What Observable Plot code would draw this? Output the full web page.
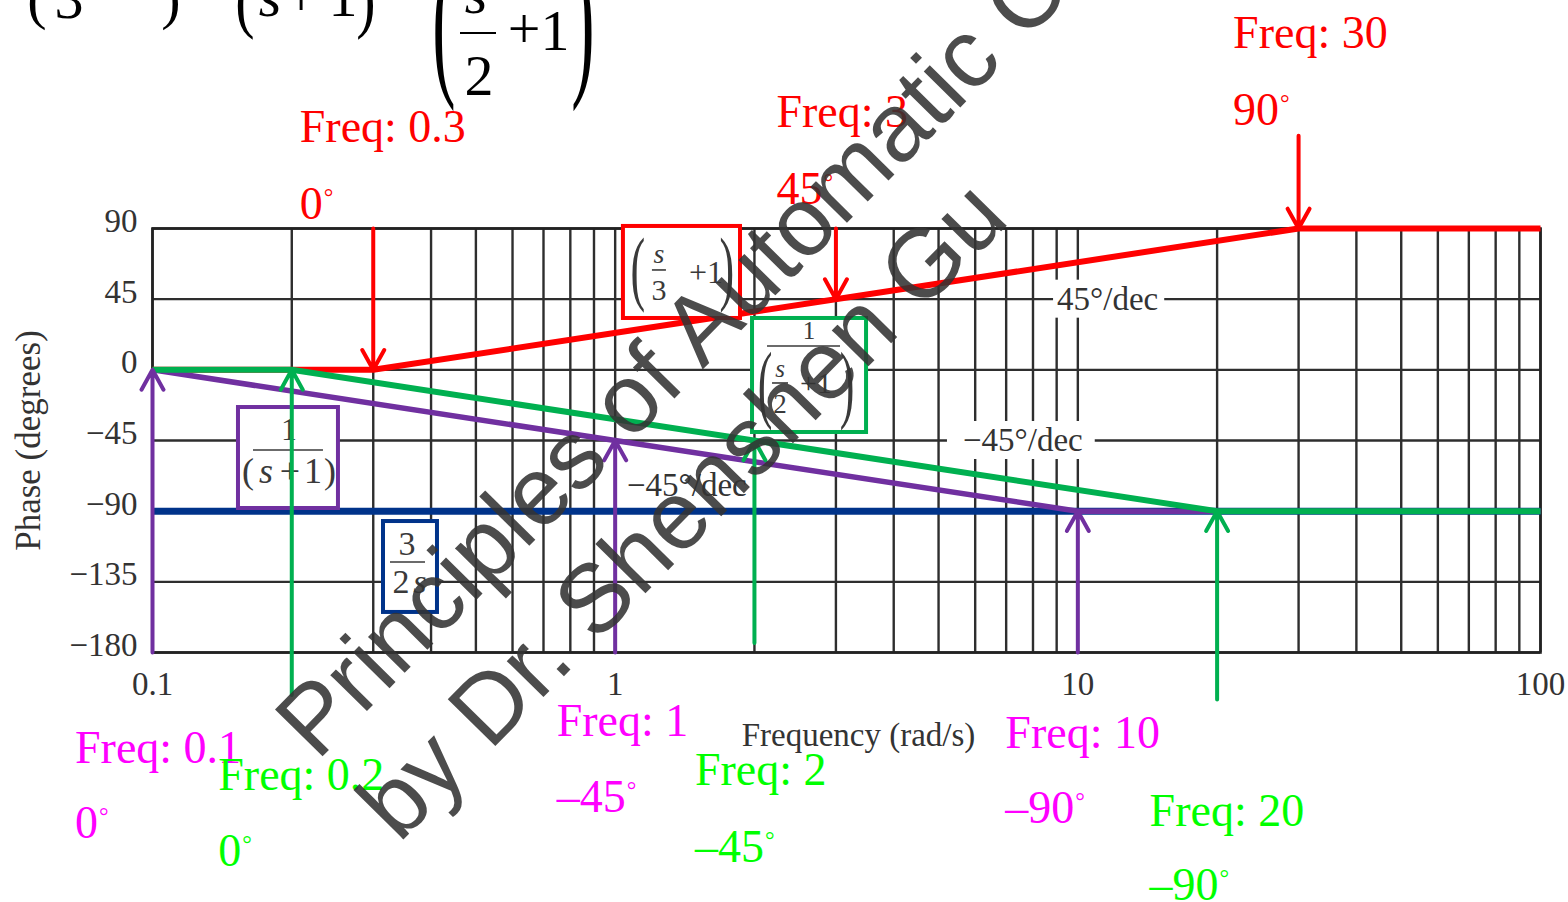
<!DOCTYPE html>
<html>
<head>
<meta charset="utf-8">
<script src="https://cdn.jsdelivr.net/npm/d3@7"></script>
<script src="https://cdn.jsdelivr.net/npm/@observablehq/plot@0.6"></script>
<style>
  html, body { margin: 0; padding: 0; background: #fff; overflow: hidden; }
  #wrap { position: relative; width: 1568px; height: 902px; }
  #wrap > svg { position: absolute; left: 0; top: 0; }
  #overlay { pointer-events: none; }
</style>
</head>
<body>
<div id="wrap"></div>
<script>
// Asymptotic phase of G(s) = 3/(2s) · 1/(s+1) · (s/3+1)/(s/2+1), one straight-line
// approximation per factor, with the break frequencies marked by arrows.

// ---- data ----
const redFreq = [0.1, 0.3, 30, 100];      // (s/3 + 1)
const redPhase = [0, 0, 90, 90];
const purpleFreq = [0.1, 10, 100];        // 1/(s + 1)
const purplePhase = [0, -90, -90];
const greenFreq = [0.1, 0.2, 20, 100];    // 1/(s/2 + 1)
const greenPhase = [0, 0, -90, -90];
const blueFreq = [0.1, 100];              // 3/(2s)
const bluePhase = [-90, -90];

const arrowSeries = ["red", "red", "red", "purple", "purple", "purple", "green", "green", "green"];
const arrowFreq = [0.3, 3, 30, 0.1, 1, 10, 0.2, 2, 20];
const arrowPhase = [0, 45, 90, 0, -45, -90, 0, -45, -90];
const arrowTail = [90, 90, 149, -180, -180, -180, -207, -174, -210];

const yTicks = [90, 45, 0, -45, -90, -135, -180];
const xTicks = [0.1, 1, 10, 100];
const slopeText = ["45°/dec", "−45°/dec", "−45°/dec"];
const slopeFreq = [9.04, 5.66, 1.063];
const slopePhase = [45, -45, -73.6];

// ---- styling ----
const lineColor = {red: "#ff0000", purple: "#7030a0", green: "#00b050", blue: "#00338a"};
const labelColor = {red: "#ff0000", purple: "#ff00ff", green: "#00ff00"};
const serif = "'Liberation Serif', 'Times New Roman', serif";
const inkGray = "#3a3a3a";

// label offsets from each arrow's tail: [dx, dy of "Freq" line, dy of angle line]
const labelLayout = [
  [-73, -86, -9], [-59, -101, -24], [-65, -87, -10],
  [-77, 111, 186], [-58, 84, 160], [-72, 96, 171],
  [-73, 96, 172], [-59, 142, 219], [-67, 127, 201]
];

// padding of the white patch behind each slope label: [left, right]
const slopePad = [[4, 6], [16, 12], [4, 4]];

// boxed transfer-function factors; pieces are laid out in pixels inside each box
const formulaBoxes = [
  {series: "red", f1: 1.042, f2: 1.866, p1: 91.3, p2: 32.7, pieces: [
    {paren: "(", x: 15, top: 14, bottom: 84, size: 44},
    {text: "s", x: 36, y: 37, size: 28, italic: true},
    {bar: [29, 43], y: 44},
    {text: "3", x: 36, y: 74, size: 30},
    {text: "+1", x: 83, y: 57, size: 32},
    {paren: ")", x: 104, top: 14, bottom: 84, size: 44}
  ]},
  {series: "green", f1: 1.981, f2: 3.494, p1: 32.7, p2: -39.9, pieces: [
    {text: "1", x: 57, y: 21, size: 25},
    {bar: [15, 88], y: 28},
    {paren: "(", x: 13, top: 35, bottom: 109, size: 44},
    {text: "s", x: 28, y: 59, size: 25, italic: true},
    {bar: [20, 36], y: 65},
    {text: "2", x: 28, y: 95, size: 27},
    {text: "+1", x: 64, y: 75, size: 30},
    {paren: ")", x: 95, top: 35, bottom: 109, size: 44}
  ]},
  {series: "purple", f1: 0.1534, f2: 0.2523, p1: -24.0, p2: -88.3, pieces: [
    {text: "1", x: 51, y: 33, size: 32},
    {bar: [15, 85], y: 43},
    {text: "(", x: 10, y: 76, size: 36},
    {text: "s", x: 28, y: 76, size: 36, italic: true},
    {text: "+", x: 52, y: 76, size: 36},
    {text: "1", x: 75, y: 76, size: 36},
    {text: ")", x: 92, y: 76, size: 36}
  ]},
  {series: "blue", f1: 0.3157, f2: 0.4130, p1: -96.6, p2: -154.5, pieces: [
    {text: "3", x: 24, y: 34, size: 34},
    {bar: [7, 42], y: 41},
    {text: "2", x: 18, y: 72, size: 34},
    {text: "s", x: 37, y: 72, size: 34, italic: true}
  ]}
];

// ---- helpers ----
const fallbackX = d3.scaleLog([0.1, 100], [152, 1540]);
const fallbackY = d3.scaleLinear([-180, 90], [652, 228]);
function scaleFns(scales) {
  return [
    scales && typeof scales.x === "function" ? scales.x : fallbackX,
    scales && typeof scales.y === "function" ? scales.y : fallbackY
  ];
}
const measureCtx = document.createElement("canvas").getContext("2d");
function textWidth(s, size) {
  measureCtx.font = `${size}px 'Liberation Serif'`;
  return measureCtx.measureText(s).width;
}
// a parenthesis stretched vertically so that its ink spans top..bottom
function appendParen(g, ch, cx, top, bottom, size, fill) {
  const k = (bottom - top) / (0.853 * size);
  const yb = bottom - 0.177 * size * k;
  g.append("text")
    .attr("transform", `translate(${cx},${yb}) scale(1,${k})`)
    .attr("text-anchor", "middle")
    .attr("font-size", size)
    .attr("fill", fill)
    .text(ch);
}
function appendPieces(g, pieces, fill) {
  for (const p of pieces) {
    if (p.paren) {
      appendParen(g, p.paren, p.x, p.top, p.bottom, p.size, fill);
    } else if (p.bar) {
      g.append("line").attr("x1", p.bar[0]).attr("x2", p.bar[1])
        .attr("y1", p.y).attr("y2", p.y)
        .attr("stroke", fill).attr("stroke-width", p.width || 1.6);
    } else {
      g.append("text").attr("x", p.x).attr("y", p.y)
        .attr("text-anchor", "middle")
        .attr("font-size", p.size)
        .attr("font-style", p.italic ? "italic" : null)
        .attr("fill", fill)
        .text(p.text);
    }
  }
}

// ---- custom marks ----
function slopeLabels(index, scales) {
  const [sx, sy] = scaleFns(scales);
  const g = d3.create("svg:g").attr("font-family", serif).attr("text-anchor", "start");
  slopeText.forEach((s, i) => {
    const x0 = sx(slopeFreq[i]), yc = sy(slopePhase[i]);
    const w = textWidth(s, 33);
    g.append("rect")
      .attr("x", x0 - slopePad[i][0]).attr("y", yc - 19)
      .attr("width", w + slopePad[i][0] + slopePad[i][1]).attr("height", 38)
      .attr("fill", "#fff");
    g.append("text").attr("x", x0).attr("y", yc + 11)
      .attr("font-size", 33).attr("fill", "#333").text(s);
  });
  return g.node();
}

function factorBoxes(index, scales) {
  const [sx, sy] = scaleFns(scales);
  const g = d3.create("svg:g").attr("font-family", serif);
  for (const b of formulaBoxes) {
    const x = sx(b.f1), y = sy(b.p1);
    const w = sx(b.f2) - x, h = sy(b.p2) - y;
    const box = g.append("g").attr("transform", `translate(${x},${y})`);
    box.append("rect").attr("width", w).attr("height", h)
      .attr("fill", "#fff").attr("stroke", lineColor[b.series]).attr("stroke-width", 4);
    appendPieces(box, b.pieces, inkGray);
  }
  return g.node();
}

function breakLabels(index, scales) {
  const [sx, sy] = scaleFns(scales);
  const g = d3.create("svg:g").attr("font-family", serif).attr("font-size", 46)
    .attr("text-anchor", "start");
  arrowFreq.forEach((f, i) => {
    const [dx, dyF, dyV] = labelLayout[i];
    const x = sx(f) + dx, y = sy(arrowTail[i]);
    const fill = labelColor[arrowSeries[i]];
    const p = arrowPhase[i];
    g.append("text").attr("x", x).attr("y", y + dyF).attr("fill", fill).text(`Freq: ${f}`);
    const v = g.append("text").attr("x", x).attr("y", y + dyV).attr("fill", fill);
    v.append("tspan").text(p < 0 ? "–" + (-p) : String(p));
    // small raised degree ring
    v.append("tspan").attr("font-size", 24).attr("dy", -14).attr("dx", 1).text("°");
  });
  return g.node();
}

// ---- plot ----
const toRows = (fs, ps) => fs.map((f, i) => ({f, p: ps[i]}));
const arrows = arrowFreq.map((f, i) => ({f, head: arrowPhase[i], tail: arrowTail[i], series: arrowSeries[i]}));
const gridFreq = [];
for (const decade of [0.1, 1, 10]) for (let k = 1; k <= 9; k++) gridFreq.push(+(k * decade).toPrecision(3));
gridFreq.push(100);

const line = (fs, ps, key, w) => Plot.line(toRows(fs, ps), {
  x: "f", y: "p", stroke: lineColor[key], strokeWidth: w, strokeLinecap: "butt", strokeLinejoin: "miter"
});
const arrowMark = (key) => Plot.arrow(arrows.filter(d => d.series === key), {
  x1: "f", x2: "f", y1: "tail", y2: "head",
  stroke: lineColor[key], strokeWidth: 4, headLength: 8.5, headAngle: 58
});

const plot = Plot.plot({
  width: 1568,
  height: 902,
  marginLeft: 152,
  marginRight: 28,
  marginTop: 228,
  marginBottom: 250,
  x: {type: "log", domain: [0.1, 100]},
  y: {domain: [-180, 90]},
  style: {fontFamily: serif, color: "#333", background: "#fff", overflow: "visible"},
  marks: [
    Plot.ruleX(gridFreq, {stroke: "#2e2e2e", strokeWidth: 2.4}),
    Plot.ruleY(yTicks, {stroke: "#2e2e2e", strokeWidth: 2.4}),
    Plot.frame({stroke: "#222", strokeWidth: 2.6}),
    slopeLabels,
    line(blueFreq, bluePhase, "blue", 7),
    line(redFreq, redPhase, "red", 6),
    line(purpleFreq, purplePhase, "purple", 5.5),
    line(greenFreq, greenPhase, "green", 6),
    factorBoxes,
    arrowMark("purple"),
    arrowMark("green"),
    arrowMark("red"),
    breakLabels,
    Plot.axisY({ticks: yTicks, tickSize: 0, tickPadding: 15, dy: -7, fontSize: 33, label: null,
      tickFormat: d => (d < 0 ? "−" + (-d) : String(d))}),
    Plot.axisX({ticks: xTicks, tickSize: 0, tickPadding: 19, fontSize: 33, label: null,
      tickFormat: d => String(d)}),
    Plot.text(["Phase (degrees)"], {text: d => d, frameAnchor: "left", dx: -124, rotate: -90,
      textAnchor: "middle", lineAnchor: "middle", fontSize: 35}),
    Plot.text(["Frequency (rad/s)"], {text: d => d, frameAnchor: "bottom", dx: 12, dy: 83,
      textAnchor: "middle", lineAnchor: "middle", fontSize: 33})
  ]
});
const wrap = document.getElementById("wrap");
wrap.appendChild(plot);

// ---- equation (bottom row only shows at the top edge) and watermark ----
const overlay = d3.create("svg").attr("id", "overlay")
  .attr("width", 1568).attr("height", 902)
  .attr("font-family", serif);

const eq = overlay.append("g");
appendPieces(eq, [
  {text: "(", x: 37, y: 18, size: 58},
  {text: "3", x: 69, y: 18, size: 58},
  {text: ")", x: 171, y: 18, size: 58},
  {paren: "(", x: 245, top: -27, bottom: 37, size: 58},
  {text: "s", x: 270, y: 16, size: 58, italic: true},
  {text: "+", x: 301, y: 16, size: 58},
  {text: "1", x: 343, y: 16, size: 58},
  {paren: ")", x: 366, top: -27, bottom: 37, size: 58},
  {paren: "(", x: 444, top: -39, bottom: 105, size: 70},
  {text: "s", x: 476, y: 13, size: 58, italic: true},
  {bar: [460, 496], y: 33, width: 2},
  {text: "2", x: 479, y: 95, size: 58},
  {text: "+", x: 524, y: 48, size: 58},
  {text: "1", x: 555, y: 50, size: 58},
  {paren: ")", x: 583, top: -39, bottom: 105, size: 70}
], "#000");

const wm = overlay.append("g")
  .attr("font-family", "'Liberation Sans', Arial, sans-serif")
  .attr("font-size", 97)
  .attr("fill", "#333")
  .attr("fill-opacity", 0.88);
wm.append("text").attr("x", 317).attr("y", 762)
  .attr("transform", "rotate(-45.5 317 762)")
  .text("Principles of Automatic Control");
wm.append("text").attr("x", 399).attr("y", 844)
  .attr("transform", "rotate(-45.5 399 844)")
  .text("by Dr. Shenshen Gu");

wrap.appendChild(overlay.node());
</script>
</body>
</html>
